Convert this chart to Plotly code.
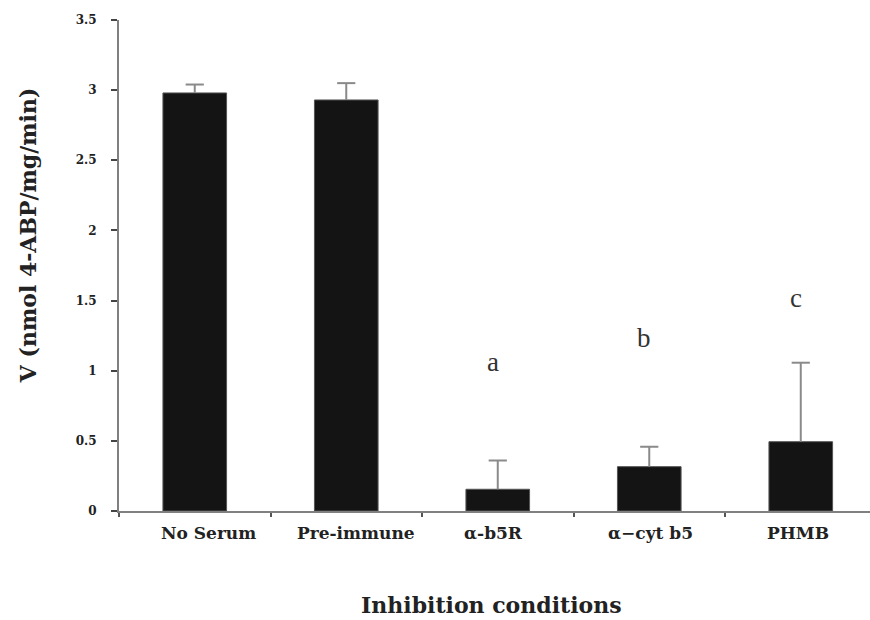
import plotly.graph_objects as go

categories = ["No Serum", "Pre-immune", "α-b5R", "α−cyt b5", "PHMB"]
values = [2.98, 2.93, 0.155, 0.316, 0.494]
err_plus = [0.06, 0.12, 0.205, 0.142, 0.563]
letters = ["", "", "a", "b", "c"]
letter_y = [None, None, 1.06, 1.23, 1.52]
y_ticks = [0, 0.5, 1, 1.5, 2, 2.5, 3, 3.5]
y_tick_text = ["0", "0.5", "1", "1.5", "2", "2.5", "3", "3.5"]
label_shift = [14, 10, -4, 1, -3]

FONT = "DejaVu Serif"
ERR_COLOR = "#8a8a8a"
W, H = 870, 620
M_L, M_R, M_T, M_B = 119, 0, 20, 109
PLOT_H = H - M_T - M_B

err_top = [v + e for v, e in zip(values, err_plus)]

fig = go.Figure()
fig.add_trace(go.Bar(
    x=categories, y=values, width=0.42,
    marker=dict(color="#141414", line=dict(color="#555555", width=1)),
    showlegend=False, hoverinfo="skip",
))
# whisker line from bar top up to value+error
fig.add_trace(go.Scatter(
    x=categories, y=values, mode="markers",
    marker=dict(size=1, color="rgba(0,0,0,0)"),
    error_y=dict(type="data", symmetric=False, array=err_plus, arrayminus=[0] * len(values),
                 color=ERR_COLOR, thickness=2, width=0),
    showlegend=False, hoverinfo="skip",
))
# caps
fig.add_trace(go.Scatter(
    x=categories, y=err_top, mode="markers",
    marker=dict(symbol="line-ew-open", size=13, color=ERR_COLOR,
                line=dict(color=ERR_COLOR, width=2)),
    showlegend=False, hoverinfo="skip",
))

for c, t, yv in zip(categories, letters, letter_y):
    if t:
        fig.add_annotation(x=c, y=yv, text=t, showarrow=False, xshift=-5,
                           font=dict(family="Liberation Serif", size=27, color="#333333"))

for c, s in zip(categories, label_shift):
    fig.add_annotation(x=c, y=-22 / PLOT_H, xref="x", yref="paper",
                       text=f"<b>{c}</b>", showarrow=False, xshift=s,
                       yanchor="middle", xanchor="center",
                       font=dict(family=FONT, size=17, color="#222222"))

fig.add_annotation(xref="paper", yref="paper", x=-0.121, y=0.562, xanchor="center", yanchor="middle",
                   text="<b>V (nmol 4-ABP/mg/min)</b>", textangle=-90, showarrow=False,
                   font=dict(family=FONT, size=22, color="#222222"))
fig.add_annotation(xref="paper", yref="paper", x=0.496, y=-0.191, xanchor="center", yanchor="middle",
                   text="<b>Inhibition conditions</b>", showarrow=False,
                   font=dict(family=FONT, size=22, color="#222222"))

fig.update_layout(
    width=W, height=H,
    margin=dict(l=M_L, r=M_R, t=M_T, b=M_B),
    plot_bgcolor="white", paper_bgcolor="white",
)
fig.update_xaxes(
    type="category", range=[-0.5, 4.457],
    showline=True, linecolor="#808080", linewidth=2,
    ticks="outside", tickson="boundaries", ticklen=4, tickcolor="#555555", tickwidth=2,
    showticklabels=False,
    showgrid=False, zeroline=False,
)
fig.update_yaxes(
    range=[0, 3.5], tickvals=y_ticks, ticktext=[f"<b>{s}</b>" for s in y_tick_text],
    showline=True, linecolor="#808080", linewidth=2,
    ticks="outside", ticklen=6, tickcolor="#444444", tickwidth=2,
    tickfont=dict(family=FONT, size=12, color="#222222"), ticklabelstandoff=12,
    showgrid=False, zeroline=False,
)

fig.write_html("out.html", config={"displayModeBar": False},
               post_script="document.body.style.margin='0';document.body.style.overflow='hidden';")
